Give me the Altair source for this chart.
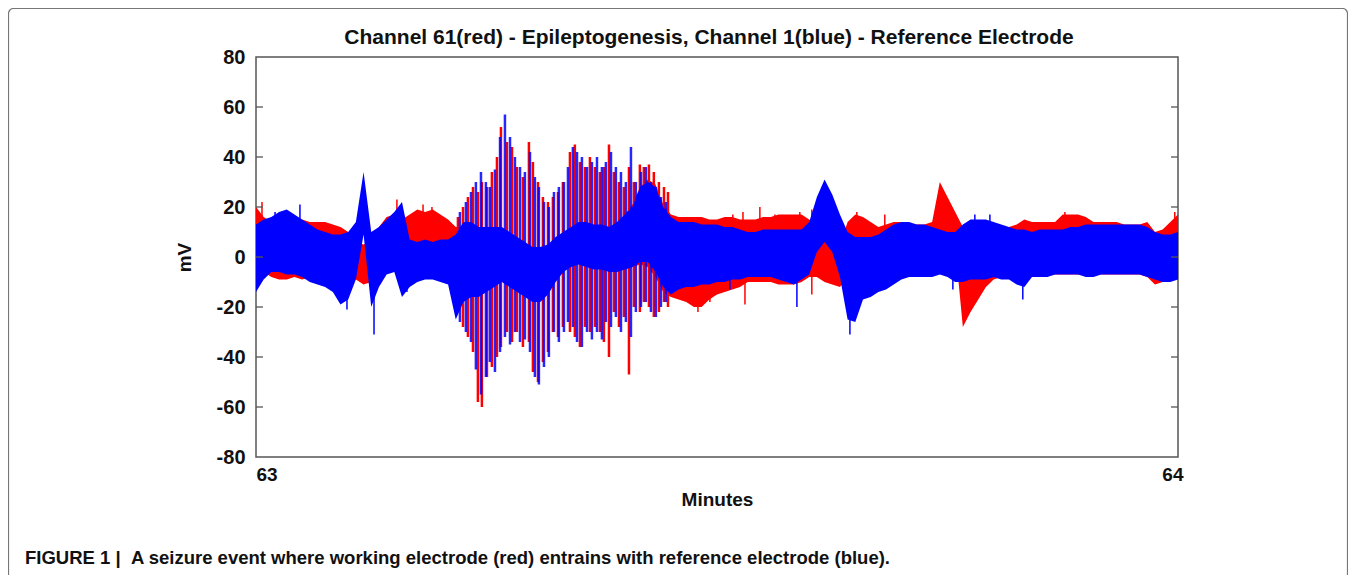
import altair as alt
import pandas as pd
import numpy as np

TITLE = "Channel 61(red) - Epileptogenesis, Channel 1(blue) - Reference Electrode"
CAPTION = "FIGURE 1 |\u00a0\u00a0A seizure event where working electrode (red) entrains with reference electrode (blue)."
X_TITLE = "Minutes"
Y_TITLE = "mV"
X_TICKS = [63, 64]
Y_TICKS = [-80, -60, -40, -20, 0, 20, 40, 60, 80]
INNER_TICKS = [-60, -40, -20, 0, 20, 40, 60]

START_MIN = 63
ENV_STEP_S = 0.5  # envelope read every half second

# Envelope (upper / lower edge) of each trace, read every 0.5 s from 63:00 to 64:00
red_hi = [20, 16, 14, 13, 13, 14, 15, 14, 14, 14,
          13, 12, 10, 6, 5, 6, 12, 16, 17, 15,
          17, 19, 18, 19, 17, 15, 12, 12, 12, 11,
          10, 10, 10, 9, 7, 5, 3, 3, 4, 7,
          9, 11, 12, 12, 12, 12, 11, 13, 17, 21,
          28, 31, 29, 21, 17, 16, 16, 16, 16, 15,
          15, 16, 16, 15, 15, 15, 16, 16, 17, 17,
          17, 17, 15, 12, 10, 8, 5, 14, 17, 16,
          14, 12, 13, 14, 14, 13, 13, 13, 14, 30,
          24, 18, 12, 7, 7, 9, 11, 12, 12, 13,
          15, 14, 14, 14, 14, 17, 17, 17, 16, 14,
          14, 14, 14, 13, 13, 13, 14, 10, 11, 14,
          17]
red_lo = [-4, -6, -8, -9, -9, -8, -9, -8, -7, -8,
          -8, -9, -9, -9, -11, -10, -5, -4, -3, -4,
          -4, -5, -4, -4, -4, -5, -8, -12, -13, -14,
          -12, -10, -9, -10, -12, -14, -16, -16, -13, -9,
          -5, -3, -2, -3, -4, -4, -5, -5, -5, -4,
          -3, -4, -8, -14, -16, -17, -18, -20, -20, -17,
          -15, -14, -13, -12, -10, -10, -10, -10, -11, -11,
          -11, -10, -8, -8, -10, -11, -12, -8, -6, -8,
          -10, -10, -9, -8, -8, -8, -7, -7, -7, 6,
          5, 4, -28, -22, -17, -12, -9, -8, -7, -7,
          -8, -8, -8, -7, -7, -7, -7, -7, -7, -7,
          -7, -7, -7, -7, -7, -7, -8, -11, -10, -9,
          -8]
blue_hi = [13, 15, 16, 18, 19, 17, 15, 13, 11, 10,
           9, 9, 10, 14, 34, 10, 12, 15, 18, 22,
           7, 6, 7, 6, 7, 7, 9, 14, 14, 12,
           12, 12, 12, 10, 8, 6, 4, 4, 5, 8,
           10, 12, 14, 14, 13, 13, 12, 14, 17, 20,
           28, 30, 28, 20, 16, 14, 14, 14, 13, 13,
           13, 12, 12, 11, 10, 10, 11, 11, 11, 11,
           11, 11, 14, 24, 31, 25, 17, 10, 8, 8,
           8, 9, 11, 13, 14, 14, 13, 13, 12, 11,
           10, 10, 13, 15, 15, 15, 14, 13, 12, 11,
           11, 10, 11, 11, 11, 11, 12, 12, 13, 13,
           13, 13, 13, 13, 13, 13, 12, 10, 9, 9,
           10]
blue_lo = [-14, -9, -6, -6, -7, -7, -8, -10, -11, -12,
           -14, -19, -17, -9, 9, -20, -12, -7, -6, -16,
           -12, -10, -9, -9, -10, -11, -25, -18, -16, -16,
           -14, -12, -10, -12, -14, -16, -18, -18, -15, -10,
           -6, -4, -3, -4, -5, -5, -6, -6, -5, -4,
           -2, -2, -6, -12, -15, -13, -12, -12, -11, -11,
           -10, -10, -9, -9, -8, -8, -8, -8, -9, -10,
           -11, -9, -7, 2, 6, 2, -8, -25, -26, -17,
           -16, -14, -13, -11, -9, -8, -8, -8, -8, -7,
           -8, -10, -10, -9, -9, -9, -8, -9, -9, -11,
           -12, -8, -8, -8, -7, -7, -7, -7, -8, -8,
           -7, -7, -7, -7, -7, -7, -8, -9, -10, -10,
           -9]

# Individual seizure discharges (seconds after 63:00, peak, trough)
red_spike_s = [13.14, 13.47, 13.79, 14.12, 14.44, 14.70, 15.03, 15.35, 15.68, 15.94,
               16.33, 16.66, 16.98, 17.37, 17.76, 18.02, 18.35, 18.67, 19.00, 19.32,
               19.65, 19.97, 20.43, 20.75, 21.08, 21.41, 21.73, 22.06, 22.38, 22.64,
               22.97, 23.29, 23.62, 23.94, 24.27, 24.59, 24.98, 25.24, 25.57, 25.89,
               26.22, 26.55, 26.81]
red_spike_top = [16, 20, 24, 28, 26, 30, 28, 34, 40, 52,
                 46, 44, 36, 32, 46, 38, 30, 24, 22, 24,
                 26, 30, 42, 45, 38, 36, 40, 36, 34, 36,
                 45, 34, 30, 28, 36, 30, 37, 36, 37, 34,
                 30, 28, 26]
red_spike_bot = [-22, -28, -32, -38, -58, -60, -48, -44, -40, -36,
                 -30, -34, -30, -36, -34, -46, -50, -42, -38, -30,
                 -32, -28, -30, -32, -36, -28, -30, -28, -30, -34,
                 -40, -22, -28, -24, -47, -20, -22, -18, -20, -24,
                 -22, -18, -20]
blue_spike_s = [13.27, 13.66, 13.99, 14.31, 14.64, 14.96, 15.22, 15.55, 15.88, 16.20,
                16.53, 16.85, 17.18, 17.50, 17.83, 18.15, 18.41, 18.74, 19.06, 19.39,
                19.71, 20.04, 20.30, 20.62, 20.89, 21.21, 21.54, 21.86, 22.19, 22.51,
                22.77, 23.10, 23.42, 23.75, 24.07, 24.40, 24.72, 25.05, 25.37, 25.70,
                26.02, 26.35, 26.67]
blue_spike_top = [18, 22, 26, 30, 34, 30, 28, 35, 48, 57,
                  48, 40, 36, 34, 42, 32, 28, 22, 20, 26,
                  28, 30, 36, 44, 42, 40, 36, 38, 40, 36,
                  38, 42, 36, 34, 30, 44, 30, 34, 36, 30,
                  28, 24, 22]
blue_spike_bot = [-26, -30, -34, -45, -55, -48, -42, -46, -38, -32,
                  -35, -30, -34, -33, -38, -48, -51, -44, -40, -30,
                  -34, -30, -26, -28, -34, -36, -30, -33, -30, -33,
                  -26, -28, -24, -30, -26, -32, -22, -20, -18, -22,
                  -24, -20, -18]

# Isolated sharp deflections sticking out of the background activity
red_extra_s = [0.39, 9.17, 10.87, 11.45, 28.76, 29.54, 31.03, 31.69, 31.82, 32.79,
               33.77, 35.39, 36.17, 39.10, 40.92, 52.64, 59.79]
red_extra_top = [22, 23, 21, 20, -5, -5, 17, 18, -5, 20,
                 17, 18, 19, 18, 17, 18, 18]
red_extra_bot = [10, 10, 10, 10, -22, -18, 5, 5, -19, 5,
                 5, 5, -15, 5, 5, 5, 5]
blue_extra_s = [7.68, 35.20, 38.65, 1.24, 2.86, 5.47, 5.92, 9.82, 30.84, 45.35,
                49.90, 46.78, 47.76]
blue_extra_top = [6, 10, 8, 18, 21, 0, 0, 0, 0, 0,
                  0, 17, 17]
blue_extra_bot = [-31, -20, -31, 0, 0, -17, -21, -14, -13, -13,
                  -17, 0, 0]

RED = "#FF0000"
BLUE = "#0000FF"
FRAME = "#555555"
FONT = "Liberation Sans, Arial, Helvetica, sans-serif"
W, H = 922, 400


def to_min(sec):
    return START_MIN + np.asarray(sec, dtype=float) / 60.0


n = len(red_hi)
env = pd.DataFrame({
    "t": to_min(np.arange(n) * ENV_STEP_S),
    "red_hi": red_hi, "red_lo": red_lo,
    "blue_hi": blue_hi, "blue_lo": blue_lo,
})
red_sp = pd.DataFrame({"t": to_min(red_spike_s), "top": red_spike_top, "bot": red_spike_bot})
blue_sp = pd.DataFrame({"t": to_min(blue_spike_s), "top": blue_spike_top, "bot": blue_spike_bot})
red_ex = pd.DataFrame({"t": to_min(red_extra_s), "top": red_extra_top, "bot": red_extra_bot})
blue_ex = pd.DataFrame({"t": to_min(blue_extra_s), "top": blue_extra_top, "bot": blue_extra_bot})
ticks_df = pd.DataFrame({"v": INNER_TICKS})
text_df = pd.DataFrame({"label": [TITLE], "cap": [CAPTION]})
one_df = pd.DataFrame({"a": [0]})

xs = alt.Scale(domain=[63, 64], nice=False, zero=False)
ys = alt.Scale(domain=[-80, 80], nice=False, zero=False)

x_axis = alt.Axis(values=X_TICKS, format="d", title=X_TITLE, ticks=False, domain=False, grid=False,
                  labelFontSize=19, labelFontWeight="bold", labelFont=FONT, labelColor="#111",
                  labelPadding=8, titleFontSize=19, titleFontWeight="bold", titleFont=FONT,
                  titleColor="#111", titlePadding=6,
                  labelAlign=alt.ExprRef(expr="datum.value == 63 ? 'left' : 'right'"),
                  labelOffset=alt.ExprRef(expr="datum.value == 63 ? 0 : 5"))
y_axis = alt.Axis(values=Y_TICKS, title=Y_TITLE, ticks=False, domain=False, grid=False,
                  labelExpr="datum.value < 0 ? '-' + abs(datum.value) : '' + datum.value",
                  labelFontSize=20, labelFontWeight="bold", labelFont=FONT, labelColor="#111",
                  labelPadding=11, titleFontSize=19, titleFontWeight="bold", titleFont=FONT,
                  titleColor="#111", titlePadding=22)

X = alt.X("t:Q", scale=xs, axis=x_axis)


def band(col_lo, col_hi, color):
    return alt.Chart(env).mark_area(color=color, interpolate="linear").encode(
        x=X, y=alt.Y(f"{col_lo}:Q", scale=ys, axis=y_axis), y2=f"{col_hi}:Q")


def rules(df, color, width, opacity=1.0):
    return alt.Chart(df).mark_rule(color=color, strokeWidth=width, opacity=opacity).encode(
        x=X, y=alt.Y("bot:Q", scale=ys, axis=y_axis), y2="top:Q")


left_ticks = alt.Chart(ticks_df).mark_rule(color=FRAME, strokeWidth=1.3).encode(
    y=alt.Y("v:Q", scale=ys, axis=y_axis), x=alt.value(0), x2=alt.value(7))
right_ticks = alt.Chart(ticks_df).mark_rule(color=FRAME, strokeWidth=1.3).encode(
    y=alt.Y("v:Q", scale=ys, axis=y_axis), x=alt.value(W - 7), x2=alt.value(W))

title = alt.Chart(text_df).mark_text(
    align="center", baseline="middle", font=FONT, fontSize=21, fontWeight="bold", color="#111"
).encode(text="label:N", x=alt.value(453), y=alt.value(-19))

caption = alt.Chart(text_df).mark_text(
    align="left", baseline="middle", font=FONT, fontSize=18.5, fontWeight="bold", color="#111"
).encode(text="cap:N", x=alt.value(-231), y=alt.value(501))

border = alt.Chart(one_df).mark_rect(
    filled=False, stroke="#777777", strokeWidth=1.2, cornerRadius=5
).encode(x=alt.value(-247.5), x2=alt.value(1091.5), y=alt.value(-48.5), y2=alt.value(560))

chart = alt.layer(
    band("red_lo", "red_hi", RED), rules(red_sp, RED, 2.5), rules(red_ex, RED, 1.5),
    band("blue_lo", "blue_hi", BLUE), rules(blue_sp, BLUE, 2.5, 0.85), rules(blue_ex, BLUE, 1.5),
    left_ticks, right_ticks, title, caption, border
).properties(
    width=W, height=H,
    padding={"left": 248, "top": 49, "right": 170, "bottom": 118},
    autosize=alt.AutoSizeParams(type="none"),
).configure_view(stroke=FRAME, strokeWidth=1.5)

chart.save("out.html", embed_options={"renderer": "svg", "actions": False})
